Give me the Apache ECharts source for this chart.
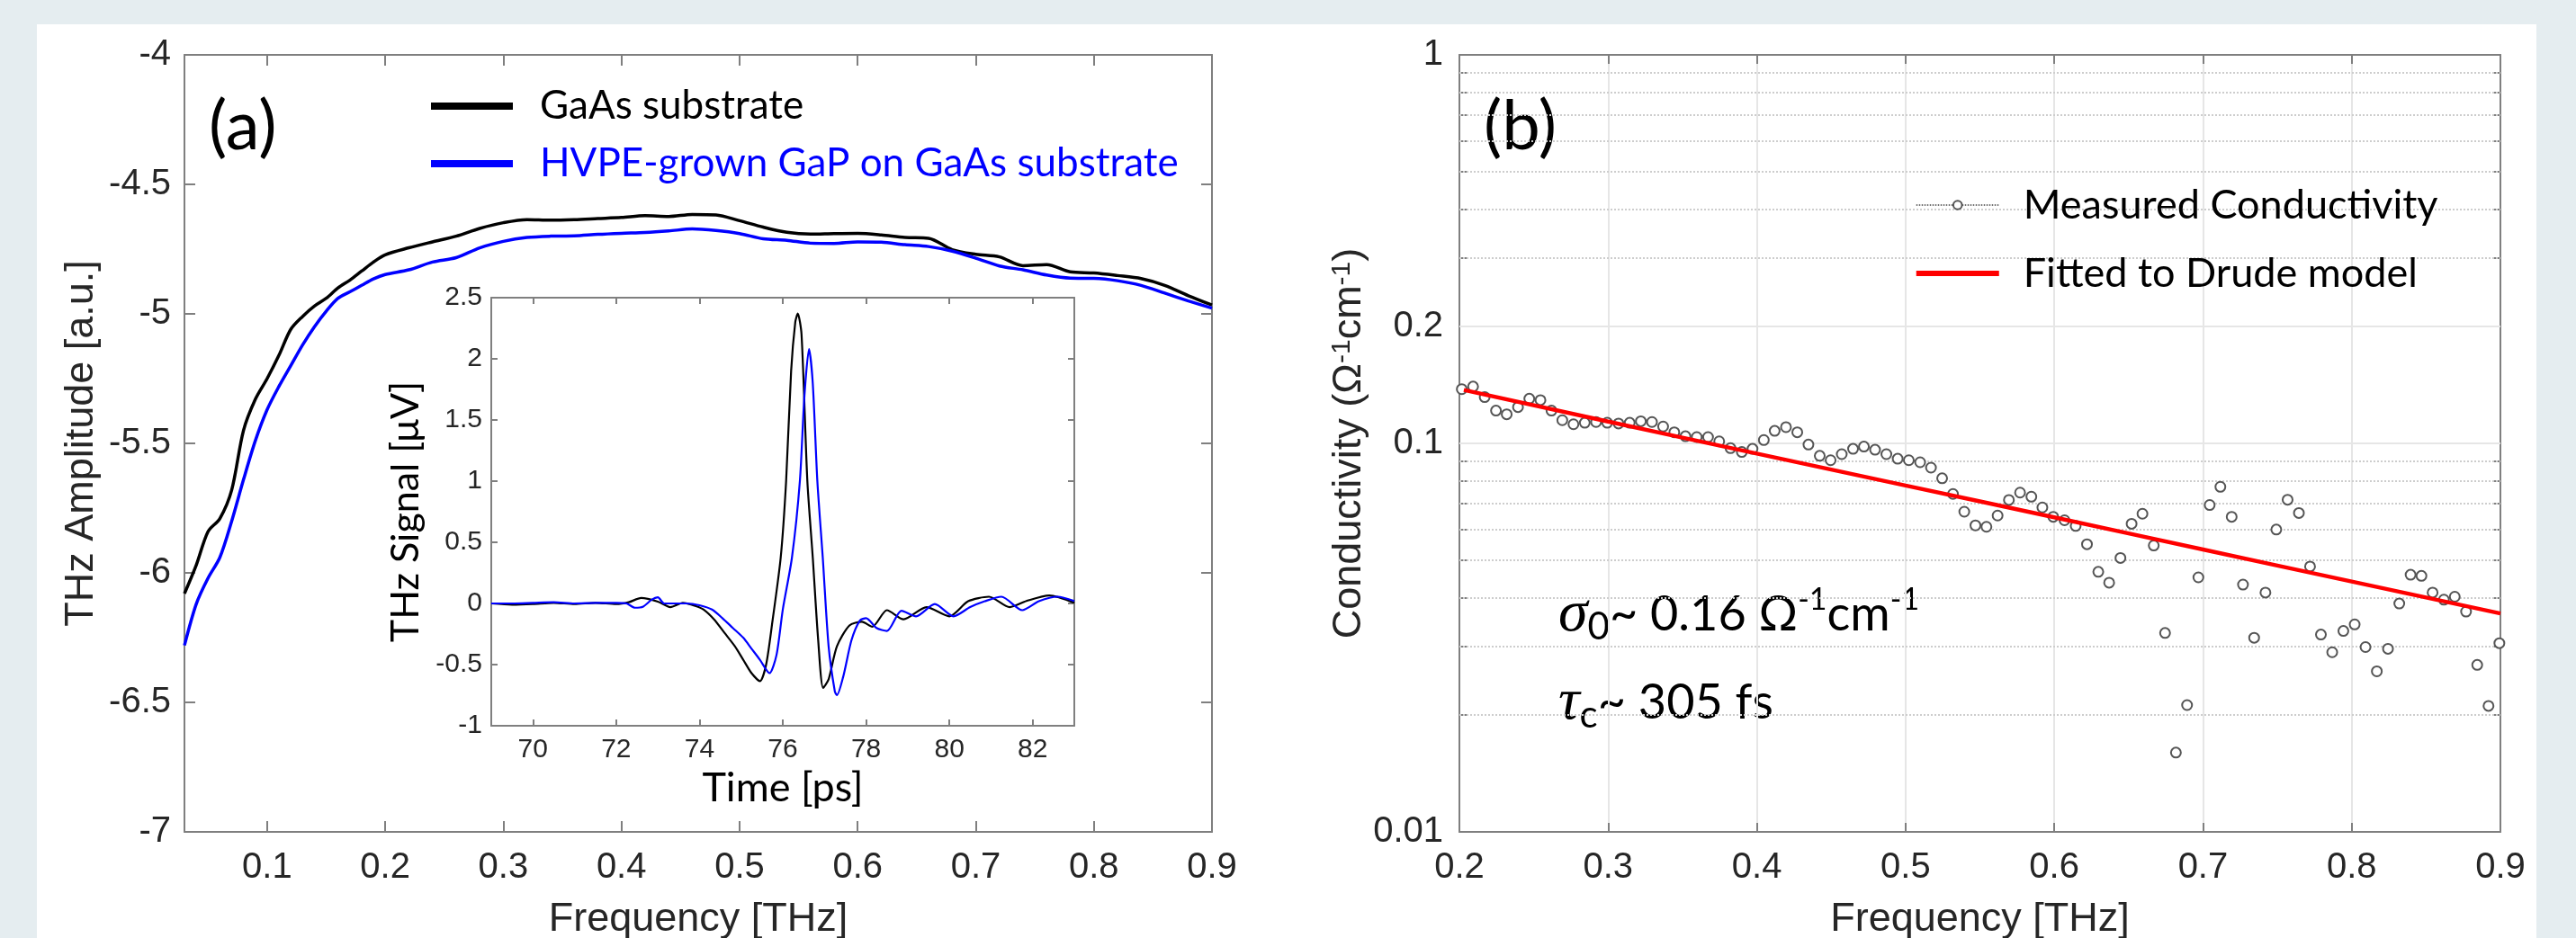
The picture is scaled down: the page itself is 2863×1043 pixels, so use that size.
<!DOCTYPE html>
<html><head><meta charset="utf-8">
<script src="https://cdn.jsdelivr.net/npm/echarts@6/dist/echarts.min.js"></script>
<style>
html,body{margin:0;padding:0;background:#e5edf0;overflow:hidden}
#panel{position:absolute;left:41px;top:27px;width:2778px;height:1016px;background:#fff}
#c{position:absolute;left:0;top:0;width:2863px;height:1043px}
</style>
</head><body><div id="panel"></div><div id="c"></div>
<script>
// ---------- Panel (a): spectra ----------
const freqA = [0.03,0.04,0.05,0.06,0.07,0.08,0.09,0.10,0.11,0.12,0.13,0.14,0.15,0.16,0.17,0.18,0.19,0.20,
  0.22,0.24,0.26,0.28,0.30,0.32,0.34,0.36,0.38,0.40,0.42,0.44,0.46,0.48,0.50,0.52,0.54,0.56,0.58,0.60,
  0.62,0.64,0.66,0.68,0.70,0.72,0.74,0.76,0.78,0.80,0.82,0.84,0.86,0.88,0.90];
const ampGaAs = [-6.08,-5.97,-5.84,-5.79,-5.68,-5.45,-5.33,-5.25,-5.16,-5.06,-5.01,-4.97,-4.94,-4.90,-4.87,-4.835,-4.80,-4.772,
  -4.745,-4.722,-4.70,-4.67,-4.648,-4.636,-4.638,-4.636,-4.632,-4.628,-4.621,-4.624,-4.616,-4.618,-4.64,-4.665,-4.685,-4.692,-4.69,-4.689,
  -4.695,-4.705,-4.708,-4.752,-4.77,-4.78,-4.814,-4.81,-4.838,-4.842,-4.852,-4.864,-4.89,-4.93,-4.966];
const ampGaP = [-6.28,-6.12,-6.02,-5.94,-5.80,-5.64,-5.49,-5.37,-5.28,-5.20,-5.12,-5.05,-4.99,-4.94,-4.915,-4.89,-4.865,-4.848,
  -4.83,-4.80,-4.783,-4.745,-4.72,-4.705,-4.70,-4.699,-4.693,-4.689,-4.686,-4.68,-4.672,-4.678,-4.69,-4.71,-4.716,-4.727,-4.728,-4.722,
  -4.723,-4.733,-4.74,-4.758,-4.785,-4.815,-4.83,-4.85,-4.862,-4.863,-4.872,-4.89,-4.92,-4.95,-4.978];
const freqTicksA = [0.1,0.2,0.3,0.4,0.5,0.6,0.7,0.8,0.9];

// ---------- Inset: time-domain pulses ----------
const timeGaAs = [69.0,69.5,70.0,70.5,71.0,71.5,72.0,72.3,72.6,73.0,73.3,73.6,73.9,74.1,74.35,74.6,74.85,75.05,75.25,75.45,
  75.6,75.75,75.95,76.08,76.2,76.3,76.36,76.45,76.59,76.72,76.85,76.97,77.1,77.3,77.6,77.9,78.15,78.5,78.9,79.45,
  80.0,80.45,80.95,81.45,81.85,82.4,83.0];
const sigGaAs = [0,-0.01,-0.005,0.005,-0.005,0.005,-0.005,0.01,0.045,0.015,-0.03,0.005,-0.02,-0.05,-0.13,-0.24,-0.35,-0.46,-0.57,-0.635,
  -0.5,-0.15,0.375,1.0,1.9,2.3,2.37,2.2,1.0,0.375,-0.3,-0.69,-0.62,-0.35,-0.18,-0.15,-0.19,-0.055,-0.13,-0.03,
  -0.105,0.018,0.055,-0.03,0.02,0.065,0.005];
const timeGaP = [69.0,69.5,70.0,70.5,71.0,71.5,72.0,72.25,72.45,72.65,72.85,73.0,73.15,73.4,73.7,74.0,74.3,74.55,74.8,75.05,
  75.25,75.45,75.68,75.85,76.0,76.22,76.41,76.52,76.63,76.72,76.83,76.96,77.1,77.25,77.3,77.45,77.65,77.85,78.0,78.25,
  78.5,78.85,79.2,79.65,80.1,80.5,80.85,81.25,81.75,82.15,82.6,83.0];
const sigGaP = [0,0,0.005,0.01,0,0.005,0.005,0,-0.035,-0.025,0.03,0.05,0,0,0,-0.015,-0.05,-0.12,-0.2,-0.28,
  -0.37,-0.46,-0.57,-0.42,-0.05,0.375,1.0,1.7,2.08,1.8,1.0,0.375,-0.35,-0.72,-0.75,-0.6,-0.3,-0.14,-0.12,-0.2,
  -0.225,-0.06,-0.105,-0.005,-0.105,-0.03,0.018,0.055,-0.055,0.018,0.055,0.02];
const timeTicks = [70,72,74,76,78,80,82];

// ---------- Panel (b): conductivity ----------
const freqB = [0.2016,0.2092,0.217,0.2246,0.2318,0.2394,0.247,0.2545,0.2619,0.2692,0.2767,0.2843,0.2919,0.2994,0.307,0.3145,
  0.322,0.3295,0.337,0.3445,0.352,0.3596,0.3672,0.3747,0.3823,0.3899,0.3971,0.4047,0.412,0.4196,0.4272,0.4347,0.4423,0.4496,
  0.4571,0.4647,0.472,0.4795,0.4871,0.4947,0.5022,0.5098,0.5171,0.5246,0.5319,0.5395,0.547,0.5544,0.5619,0.5695,0.577,0.5846,
  0.592,0.5993,0.6069,0.6144,0.622,0.6296,0.6369,0.6445,0.652,0.6593,0.6669,0.6745,0.6818,0.6893,0.6969,0.7045,0.7117,0.7193,
  0.7269,0.7344,0.742,0.7493,0.7569,0.7645,0.772,0.7793,0.7869,0.7944,0.802,0.8093,0.8169,0.8244,0.832,0.8396,0.8469,0.8544,
  0.862,0.8693,0.8769,0.8844,0.892,0.8993];
const condMeas = [0.1379,0.140,0.1315,0.1214,0.1188,0.124,0.1303,0.1292,0.1214,0.1147,0.1120,0.1130,0.1135,0.1130,0.1125,0.1130,
  0.1140,0.1135,0.1105,0.1068,0.1043,0.1038,0.1038,0.1012,0.0972,0.0950,0.0968,0.1020,0.1077,0.1101,0.1068,0.0993,0.0929,0.0905,
  0.0938,0.0968,0.0981,0.0963,0.0938,0.0913,0.0905,0.0894,0.0866,0.0813,0.0741,0.0667,0.0615,0.0610,0.0652,0.0715,0.0747,0.0729,
  0.0684,0.0647,0.0634,0.0613,0.0550,0.0467,0.0438,0.0507,0.0621,0.0659,0.0546,0.0325,0.0160,0.0212,0.0452,0.0694,0.0773,0.0647,
  0.0433,0.0316,0.0413,0.0600,0.0716,0.0662,0.0482,0.0322,0.0290,0.0329,0.0342,0.0299,0.0259,0.0296,0.0387,0.0459,0.0456,0.0413,
  0.0396,0.0403,0.0369,0.0269,0.0211,0.0306];
const freqFit = [0.203,0.3,0.4,0.5,0.6,0.7,0.8,0.9];
const condFit = [0.1372,0.1138,0.0941,0.0779,0.0645,0.0533,0.0441,0.0365];
const condLabelTicks = [0.01,0.1,0.2,1];
const condAllTicks = [0.01,0.02,0.03,0.04,0.05,0.06,0.07,0.08,0.09,0.1,0.2,0.3,0.4,0.5,0.6,0.7,0.8,0.9,1];
const condMinorGrid = [0.02,0.03,0.04,0.05,0.06,0.07,0.08,0.09,0.3,0.4,0.5,0.6,0.7,0.8,0.9];
const condMajorGrid = [0.1,0.2];

const zip = (a,b) => a.map((v,i)=>[v,b[i]]);

const AX = '#7f7f7f', TX = '#262626';
const SANS = 'Liberation Sans, Arial, sans-serif';
const CAL = 'Lato, Noto Sans, sans-serif';

function frameAxis(extra){
  return Object.assign({
    axisLine:{show:true,onZero:false,lineStyle:{color:AX,width:2}},
    axisTick:{show:true,inside:true,length:12,lineStyle:{color:AX,width:2}},
    axisLabel:{show:false},
    splitLine:{show:false}
  }, extra);
}
function labelStyle(size, margin, extra){
  return Object.assign({show:true,fontFamily:SANS,fontSize:size,color:TX,margin:margin}, extra||{});
}

const option = {
  backgroundColor:'transparent',
  animation:false,
  grid:[
    {left:205, top:61, width:1142, height:864, outerBoundsMode:'none', containLabel:false},
    {left:546, top:331, width:648, height:476, show:true, backgroundColor:'#fff', borderWidth:0, outerBoundsMode:'none', containLabel:false},
    {left:1622, top:61, width:1157, height:864, outerBoundsMode:'none', containLabel:false}
  ],
  xAxis:[
    frameAxis({gridIndex:0,type:'value',min:0.03,max:0.9,position:'bottom',
      axisTick:{show:true,inside:true,length:12,customValues:freqTicksA,lineStyle:{color:AX,width:2}},
      axisLabel:labelStyle(40,20,{customValues:freqTicksA}),
      name:'Frequency [THz]',nameLocation:'middle',nameGap:75,nameMoveOverlap:false,
      nameTextStyle:{fontFamily:SANS,fontSize:45,color:TX}}),
    frameAxis({gridIndex:0,type:'value',min:0.03,max:0.9,position:'top',
      axisTick:{show:true,inside:true,length:12,customValues:freqTicksA,lineStyle:{color:AX,width:2}}}),
    frameAxis({gridIndex:1,type:'value',min:69,max:83,position:'bottom',
      axisTick:{show:true,inside:true,length:7,customValues:timeTicks,lineStyle:{color:AX,width:2}},
      axisLabel:labelStyle(30,12,{customValues:timeTicks}),
      name:'Time [ps]',nameLocation:'middle',nameGap:47,
      nameTextStyle:{fontFamily:CAL,fontSize:45,color:'#000'}}),
    frameAxis({gridIndex:1,type:'value',min:69,max:83,position:'top',
      axisTick:{show:true,inside:true,length:7,customValues:timeTicks,lineStyle:{color:AX,width:2}}}),
    frameAxis({gridIndex:2,type:'value',min:0.2,max:0.9,interval:0.1,position:'bottom',
      axisTick:{show:true,inside:true,length:10,lineStyle:{color:AX,width:2}},
      axisLabel:labelStyle(40,20),
      splitLine:{show:true,lineStyle:{color:'#e6e6e6',width:2}},
      name:'Frequency [THz]',nameLocation:'middle',nameGap:75,nameMoveOverlap:false,
      nameTextStyle:{fontFamily:SANS,fontSize:45,color:TX}}),
    frameAxis({gridIndex:2,type:'value',min:0.2,max:0.9,interval:0.1,position:'top',
      axisTick:{show:true,inside:true,length:10,lineStyle:{color:AX,width:2}}})
  ],
  yAxis:[
    frameAxis({gridIndex:0,type:'value',min:-7,max:-4,interval:0.5,position:'left',
      axisLabel:labelStyle(40,15),
      name:'THz Amplitude [a.u.]',nameLocation:'middle',nameGap:92,
      nameTextStyle:{fontFamily:SANS,fontSize:45,color:TX}}),
    frameAxis({gridIndex:0,type:'value',min:-7,max:-4,interval:0.5,position:'right'}),
    frameAxis({gridIndex:1,type:'value',min:-1,max:2.5,interval:0.5,position:'left',
      axisTick:{show:true,inside:true,length:7,lineStyle:{color:AX,width:2}},
      axisLabel:labelStyle(30,10),
      name:'THz Signal [μV]',nameLocation:'middle',nameGap:73,
      nameTextStyle:{fontFamily:CAL,fontSize:43,color:'#000'}}),
    frameAxis({gridIndex:1,type:'value',min:-1,max:2.5,interval:0.5,position:'right',
      axisTick:{show:true,inside:true,length:7,lineStyle:{color:AX,width:2}}}),
    frameAxis({gridIndex:2,type:'log',logBase:10,min:0.01,max:1,position:'left',
      axisTick:{show:true,inside:true,length:8,customValues:condAllTicks,lineStyle:{color:AX,width:2}},
      axisLabel:labelStyle(40,18,{customValues:condLabelTicks,formatter:v=>String(Math.round(v*1000)/1000)}),
      name:'Conductivity (Ω{sup|-1}cm{sup|-1})',nameLocation:'middle',nameGap:100,
      nameTextStyle:{fontFamily:SANS,fontSize:45,color:TX,
        rich:{sup:{fontFamily:SANS,fontSize:30,color:TX,verticalAlign:'top',lineHeight:30}}}}),
    frameAxis({gridIndex:2,type:'log',logBase:10,min:0.01,max:1,position:'right',
      axisTick:{show:true,inside:true,length:8,customValues:condAllTicks,lineStyle:{color:AX,width:2}}})
  ],
  legend:[
    {data:[{name:'GaAs substrate'},{name:'HVPE-grown GaP on GaAs substrate',textStyle:{color:'#0000ff'}}],
     orient:'vertical',left:474,top:88,icon:'rect',itemWidth:91,itemHeight:8,itemGap:14,selectedMode:false,
     textStyle:{fontFamily:CAL,fontSize:44,color:'#000',lineHeight:50,padding:[0,0,0,25]}},
    {data:[{name:'Measured Conductivity',lineStyle:{type:'dotted',width:1.5,color:'#444',opacity:1}},
           {name:'Fitted to Drude model',icon:'path://M0,0H91V6H0Z'}],
     orient:'vertical',left:2124,top:198,itemWidth:92,itemHeight:12,itemGap:26,selectedMode:false,
     textStyle:{fontFamily:CAL,fontSize:45,color:'#000',lineHeight:50,padding:[0,0,0,22]}}
  ],
  series:[
    {name:'GaAs substrate',type:'line',xAxisIndex:0,yAxisIndex:0,data:zip(freqA,ampGaAs),
     showSymbol:false,smooth:0.3,lineStyle:{color:'#000',width:3.5},itemStyle:{color:'#000'}},
    {name:'HVPE-grown GaP on GaAs substrate',type:'line',xAxisIndex:0,yAxisIndex:0,data:zip(freqA,ampGaP),
     showSymbol:false,smooth:0.3,lineStyle:{color:'#0000ff',width:3.5},itemStyle:{color:'#0000ff'}},
    {name:'insetGaAs',type:'line',xAxisIndex:2,yAxisIndex:2,data:zip(timeGaAs,sigGaAs),
     showSymbol:false,smooth:0.25,lineStyle:{color:'#000',width:2.2}},
    {name:'insetGaP',type:'line',xAxisIndex:2,yAxisIndex:2,data:zip(timeGaP,sigGaP),
     showSymbol:false,smooth:0.25,lineStyle:{color:'#0000ff',width:2.2}},
    {name:'Measured Conductivity',type:'line',xAxisIndex:4,yAxisIndex:4,data:zip(freqB,condMeas),
     symbol:'emptyCircle',symbolSize:11,showSymbol:true,showAllSymbol:true,
     lineStyle:{width:0,opacity:0},itemStyle:{color:'#555',borderWidth:1.5},
     markLine:{silent:true,symbol:'none',z:1,label:{show:false},animation:false,
       data:condMinorGrid.map(v=>({yAxis:v,lineStyle:{type:'dotted',color:'#cdcdcd',width:2}}))
        .concat(condMajorGrid.map(v=>({yAxis:v,lineStyle:{type:'solid',color:'#e6e6e6',width:2}})))}},
    {name:'Fitted to Drude model',type:'line',xAxisIndex:4,yAxisIndex:4,data:zip(freqFit,condFit),
     showSymbol:false,smooth:true,lineStyle:{color:'#ff0000',width:4.5},itemStyle:{color:'#ff0000'},z:4}
  ],
  graphic:[
    {type:'text',x:232,y:141,style:{text:'(a)',font:'76px Lato',fill:'#000',verticalAlign:'middle'}},
    {type:'text',x:1649,y:141,style:{text:'(b)',font:'76px Lato',fill:'#000',verticalAlign:'middle'}},
    {type:'text',x:1732,y:650,style:{
      text:'{g|σ}{sub|0}{t|~ 0.16 Ω}{sup|-1}{t|cm}{sup|-1}',
      rich:{
        g:{fontFamily:'Liberation Serif',fontStyle:'italic',fontSize:66,lineHeight:68,fill:'#000'},
        t:{fontFamily:CAL,fontSize:54,lineHeight:68,fill:'#000'},
        sub:{fontFamily:CAL,fontSize:42,lineHeight:34,verticalAlign:'bottom',fill:'#000'},
        sup:{fontFamily:CAL,fontSize:34,lineHeight:44,verticalAlign:'top',fill:'#000'}
      }}},
    {type:'text',x:1732,y:748,style:{
      text:'{g|τ}{sub|c}{t|~ 305 fs}',
      rich:{
        g:{fontFamily:'Liberation Serif',fontStyle:'italic',fontSize:66,lineHeight:68,fill:'#000'},
        t:{fontFamily:CAL,fontSize:54,lineHeight:68,fill:'#000'},
        sub:{fontFamily:CAL,fontSize:42,lineHeight:34,verticalAlign:'bottom',fill:'#000'}
      }}}
  ]
};
const chart = echarts.init(document.getElementById('c'), null, {renderer:'canvas', width:2863, height:1043});
chart.setOption(option);
</script>
</body></html>
